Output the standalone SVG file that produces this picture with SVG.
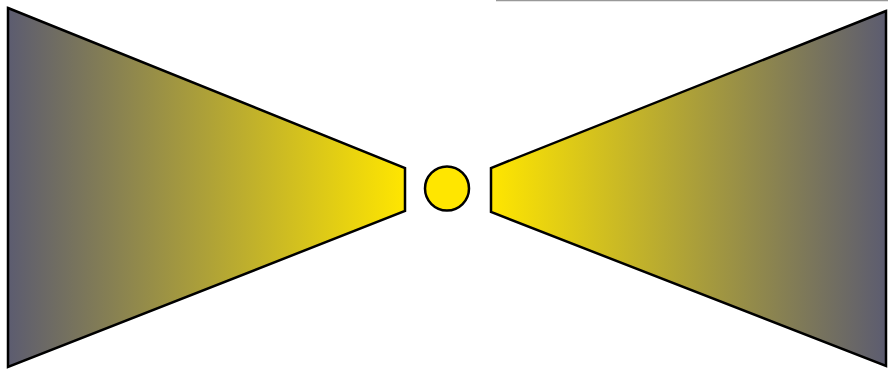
<svg xmlns="http://www.w3.org/2000/svg" width="888" height="372" viewBox="0 0 888 372">
<defs>
<linearGradient id="gl" gradientUnits="userSpaceOnUse" x1="8" y1="0" x2="405" y2="0">
<stop offset="0" stop-color="#5c5c70"/>
<stop offset="1" stop-color="#ffe600"/>
</linearGradient>
<linearGradient id="gr" gradientUnits="userSpaceOnUse" x1="886" y1="0" x2="491" y2="0">
<stop offset="0" stop-color="#5c5c70"/>
<stop offset="1" stop-color="#ffe600"/>
</linearGradient>
<style>
.s{stroke:#000;stroke-width:2.5;stroke-linejoin:miter}
</style>
</defs>
<line x1="496" y1="0.5" x2="888" y2="0.5" stroke="#999" stroke-width="1.5"/>
<g id="left"><polygon class="s" fill="url(#gl)" points="8,8 405,168 405,211 8,367"/></g>
<g id="right"><polygon class="s" fill="url(#gr)" points="886,11 491,168 491,212 886,366"/></g>
<g id="center"><circle class="s" cx="447" cy="188.5" r="22" fill="#ffe600" stroke-width="2"/></g>
</svg>
